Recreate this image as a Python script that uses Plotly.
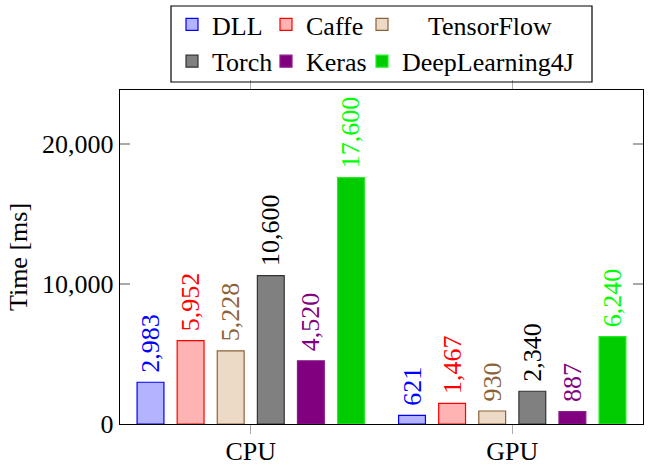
import plotly.graph_objects as go

categories = ["CPU", "GPU"]
frameworks = ["DLL", "Caffe", "TensorFlow", "Torch", "Keras", "DeepLearning4J"]
dll = [2983, 621]
caffe = [5952, 1467]
tensorflow = [5228, 930]
torch = [10600, 2340]
keras = [4520, 887]
dl4j = [17600, 6240]
y_ticks = [0, 10000, 20000]
y_tick_labels = ["0", "10,000", "20,000"]

series = [dll, caffe, tensorflow, torch, keras, dl4j]
fills = ["#B3B3FF", "#FFB3B3", "#ECD9C6", "#808080", "#800080", "#00CC00"]
lines = ["#0000FF", "#FF0000", "#8C6239", "#333333", "#8A1A8A", "#22EE22"]
texts = ["#0000FF", "#FF0000", "#8C6239", "#000000", "#800080", "#00FF00"]
# legend columns: (DLL, Torch), (Caffe, Keras), (TensorFlow, DeepLearning4J)
legend_ids = ["legend", "legend2", "legend3", "legend", "legend2", "legend3"]
legend_names = ["DLL", "Caffe", "\u00a0\u00a0\u00a0\u00a0TensorFlow", "Torch", "Keras", "DeepLearning4J"]

FONT = "Liberation Serif, Times New Roman, serif"
FS = 26

fig = go.Figure()
for name, vals, fc, lc, tc, lg in zip(legend_names, series, fills, lines, texts, legend_ids):
    fig.add_trace(go.Bar(
        x=categories, y=vals, name=name,
        marker=dict(color=fc, line=dict(color=lc, width=1.2)),
        texttemplate="\u00a0%{y:,}", textposition="outside", textangle=-90,
        constraintext="none", cliponaxis=False,
        textfont=dict(family=FONT, size=FS, color=tc),
        outsidetextfont=dict(family=FONT, size=FS, color=tc),
        legend=lg,
    ))

W, H = 654, 468
L, R, T, B = 120, 11, 90, 44
pw, ph = W - L - R, H - T - B

def px_x(x):
    return (x - L) / pw

def px_y(y):
    return (H - B - y) / ph

def legend_cfg(xpx):
    return dict(orientation="v", x=px_x(xpx), xanchor="left", y=px_y(43), yanchor="middle",
                bgcolor="rgba(0,0,0,0)", font=dict(family=FONT, size=FS),
                itemclick=False, traceorder="normal", tracegroupgap=0)

fig.update_layout(
    width=W, height=H,
    margin=dict(l=L, r=R, t=T, b=B, autoexpand=False),
    paper_bgcolor="white", plot_bgcolor="white",
    barmode="group", bargap=0.08, bargroupgap=0.33,
    font=dict(family=FONT, size=FS, color="black"),
    legend=legend_cfg(172),
    legend2=legend_cfg(266),
    legend3=legend_cfg(362),
    shapes=[dict(type="rect", xref="paper", yref="paper",
                 x0=px_x(171), x1=px_x(592), y0=px_y(82), y1=px_y(6),
                 line=dict(color="black", width=1.2), fillcolor="rgba(0,0,0,0)")],
)
fig.update_xaxes(
    range=[-0.5, 1.5], showline=True, linecolor="black", linewidth=1.2, mirror="ticks",
    ticks="outside", ticklen=9, tickcolor="#AAAAAA", tickwidth=1.2,
    ticklabelstandoff=-5,
    showgrid=False, zeroline=False, tickfont=dict(family=FONT, size=FS),
)
fig.update_yaxes(
    range=[0, 23860], showline=True, linecolor="black", linewidth=1.2, mirror="ticks",
    ticks="inside", ticklen=10, tickcolor="#AAAAAA", tickwidth=1.2,
    tickvals=y_ticks, ticktext=y_tick_labels,
    showgrid=False, zeroline=False, tickfont=dict(family=FONT, size=FS),
    title=dict(text="Time [ms]", font=dict(family=FONT, size=FS), standoff=7),
)
fig.write_html("out.html", config={"displayModeBar": False, "staticPlot": True},
               post_script="document.body.style.margin='0';document.body.style.overflow='hidden';")
